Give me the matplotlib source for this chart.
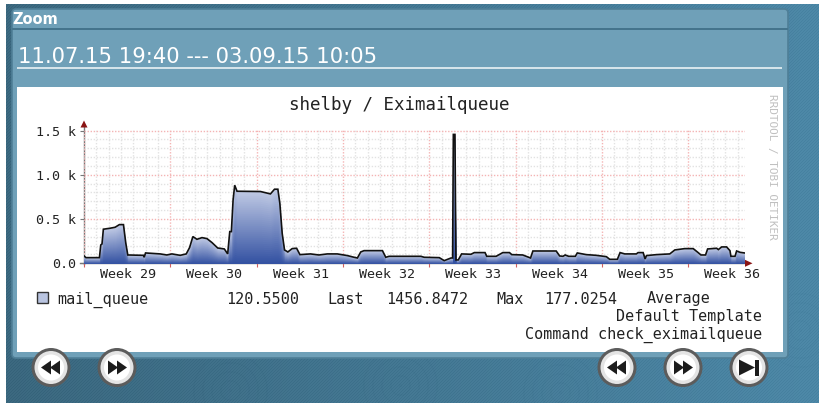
import numpy as np
import matplotlib
matplotlib.use('Agg')
import matplotlib.pyplot as plt
from matplotlib.patches import Rectangle, Circle, Polygon, FancyBboxPatch

# days since 11.07.15 19:40 / mail queue length
days = [0.0, 0.16, 1.25, 1.36, 1.46, 1.57, 2.11, 2.52, 2.87, 3.2, 3.39, 3.55, 4.82, 4.88, 4.99,
        6.18, 6.72, 7.13, 7.8, 8.29, 8.56, 8.83, 9.16, 9.57, 9.97, 10.38, 10.84, 11.38, 11.65,
        11.82, 11.95, 12.09, 12.22, 12.41, 14.31, 15.12, 15.45, 15.72, 15.88, 16.07, 16.26,
        16.53, 16.88, 17.24, 17.51, 18.37, 19.05, 19.73, 20.54, 21.36, 21.9, 22.17, 22.44,
        22.71, 24.2, 24.47, 24.74, 27.32, 27.59, 28.81, 29.21, 29.76, 29.89, 29.95, 30.08,
        30.16, 30.35, 30.62, 31.38, 31.65, 32.52, 32.66, 33.42, 33.96, 34.5, 34.69, 35.58,
        36.21, 36.4, 38.29, 38.57, 38.84, 39.02, 39.3, 39.84, 40.0, 40.73, 41.54, 42.36,
        42.63, 43.25, 43.47, 43.85, 44.79, 44.93, 45.34, 45.5, 45.61, 46.42, 47.5, 47.91,
        48.72, 49.4, 49.8, 50.03, 50.4, 50.57, 51.3, 51.44, 51.71, 52.11, 52.38, 52.46,
        52.79, 52.92, 53.2, 53.55]
queue = [83, 64, 64, 207, 219, 385, 396, 407, 437, 437, 226, 94, 90, 68, 117,
         106, 94, 106, 90, 106, 177, 302, 271, 290, 279, 234, 173, 162, 106,
         358, 358, 716, 882, 814, 811, 784, 837, 837, 679, 339, 151,
         128, 166, 170, 98, 106, 94, 106, 106, 87, 68, 60, 128,
         143, 143, 68, 79, 79, 68, 64, 30, 60, 60, 1456, 1456,
         38, 38, 106, 102, 121, 121, 79, 79, 121, 121, 98, 94,
         60, 139, 139, 83, 79, 94, 79, 79, 117, 98, 90, 75,
         45, 45, 121, 106, 106, 121, 121, 49, 87, 98, 106, 151,
         166, 166, 121, 94, 94, 162, 170, 155, 185, 185, 143, 79,
         79, 139, 124, 117]

weeks = ['Week 29', 'Week 30', 'Week 31', 'Week 32', 'Week 33', 'Week 34', 'Week 35', 'Week 36']
ytick_vals = [0, 500, 1000, 1500]
ytick_labels = ['0.0', '0.5 k', '1.0 k', '1.5 k']

W, H = 819, 403
mono = 'DejaVu Sans Mono'

fig = plt.figure(figsize=(W / 100, H / 100), dpi=100)

# page background, pixel coordinates
bg = fig.add_axes([0, 0, 1, 1])
yy, xx = np.mgrid[0:H, 0:W]
t = (xx / W)[..., None]
img = (1 - t) * np.array([60, 105, 128]) + t * np.array([78, 137, 168])
img = img + (((xx + yy) % 3 == 0)[..., None]) * -7
# faint ripples in the wallpaper
for cx, cy in [(230, 390), (400, 385), (560, 392), (800, 330)]:
    r = np.hypot(xx - cx, yy - cy)
    img = img + ((r % 9 < 1.5) & (r < 45))[..., None] * -2
img[(xx < 6) | (yy < 4)] = 255
bg.imshow(img.astype(np.uint8), extent=(0, W, H, 0), aspect='auto', interpolation='nearest')

# panel
bg.add_patch(FancyBboxPatch((12, 9), 776, 349, boxstyle='round,pad=0,rounding_size=4',
                            fc='#6fa0b8', ec='#4f7f97', lw=1.2))
title_grad = np.linspace(0, 1, 20)[:, None, None] * np.array([-52, -44, -38]) + np.array([150, 190, 206])
bg.imshow(title_grad.astype(np.uint8), extent=(13, 787, 28, 10), aspect='auto')
bg.add_patch(Rectangle((12, 28), 776, 2, fc='#44748c', ec='none'))
bg.add_patch(Rectangle((17, 67), 765, 1.5, fc='#d5e4ea', ec='none'))
bg.add_patch(Rectangle((17, 87), 766, 265, fc='white', ec='none'))
bg.text(12.5, 19.5, 'Zoom', color='white', fontsize=10.5, fontweight='bold', va='center', family='DejaVu Sans')
bg.text(17.5, 57, '11.07.15 19:40 --- 03.09.15 10:05', color='white', fontsize=15.2, va='center', family='DejaVu Sans')

# rrdtool texts
bg.text(399.5, 105, 'shelby / Eximailqueue', fontsize=12.6, family=mono, color='#222222', ha='center', va='center')
bg.text(772, 167, 'RRDTOOL / TOBI OETIKER', fontsize=7.9, family=mono, color='#c0c0c0',
        rotation=270, ha='center', va='center')
bg.add_patch(Rectangle((37, 292), 11, 11, fc='#b9c4e0', ec='#333333', lw=1))
row = [(57, 'mail_queue'), (226, '120.5500'), (327, 'Last'), (386, '1456.8472'),
       (496, 'Max'), (544, '177.0254'), (647, 'Average')]
for x, s in row:
    bg.text(x, 297.5, s, fontsize=10.9, family=mono, color='#222222', va='center_baseline')
bg.text(762, 316, 'Default Template', fontsize=10.9, family=mono, color='#222222', ha='right', va='center')
bg.text(762, 335, 'Command check_eximailqueue', fontsize=10.9, family=mono, color='#222222', ha='right', va='center')

# buttons
for cx, kind in [(51, 'back'), (117, 'fwd'), (617, 'back'), (683, 'fwd'), (749, 'end')]:
    cy = 367.5
    bg.add_patch(Circle((cx, cy), 19.5, fc='#5c5c5c', ec='none', zorder=5))
    bg.add_patch(Circle((cx, cy), 16.5, fc='#e4e4e4', ec='none', zorder=6))
    bg.add_patch(Circle((cx, cy), 13, fc='white', ec='none', zorder=6))
    if kind == 'back':
        tris = [[(cx - 10, cy), (cx, cy - 7), (cx, cy + 7)], [(cx - 1, cy), (cx + 9, cy - 7), (cx + 9, cy + 7)]]
    elif kind == 'fwd':
        tris = [[(cx + 10, cy), (cx, cy - 7), (cx, cy + 7)], [(cx + 1, cy), (cx - 9, cy - 7), (cx - 9, cy + 7)]]
    else:
        tris = [[(cx + 6, cy), (cx - 10, cy - 8), (cx - 10, cy + 8)],
                [(cx + 6, cy - 8), (cx + 10, cy - 8), (cx + 10, cy + 8), (cx + 6, cy + 8)]]
    for tri in tris:
        bg.add_patch(Polygon(tri, fc='#1c1c1c', ec='none', zorder=7))

# axis arrows
bg.plot([84, 84], [125, 264], color='#777777', lw=1, zorder=4)
bg.plot([80, 746], [263.3, 263.3], color='#777777', lw=1, zorder=4)
bg.add_patch(Polygon([(84, 120.5), (80.5, 127.5), (87.5, 127.5)], fc='#8a1414', ec='none', zorder=5))
bg.add_patch(Polygon([(752.5, 263.3), (745, 259.8), (745, 266.8)], fc='#8a1414', ec='none', zorder=5))
bg.set_xlim(0, W)
bg.set_ylim(H, 0)
bg.axis('off')

# graph
ax = fig.add_axes([84 / W, 1 - 263.3 / H, 661 / W, 133.3 / H], zorder=2)
ax.patch.set_alpha(0)
d = np.array(days)
q = np.array(queue)
ax.set_xlim(0, 53.6)
ax.set_ylim(0, 1506)

ax.set_xticks(np.arange(0, 53, 7))
ax.set_xticks(np.arange(0, 54, 1), minor=True)
ax.set_yticks(ytick_vals)
ax.set_yticklabels(ytick_labels, fontsize=9.6, family=mono, color='#222222')
ax.set_yticks(np.arange(0, 1501, 100), minor=True)
ax.tick_params(axis='y', which='major', length=3, width=0.8, color='#777777', pad=3)
ax.tick_params(axis='x', which='major', length=3, width=0.8, color='#d06060', labelbottom=False)
ax.tick_params(which='minor', length=0)
ax.grid(True, which='minor', color='#e2e2e2', lw=1, ls=(0, (1, 1.2)))
ax.grid(True, which='major', color='#f4b4b4', lw=1, ls=(0, (1, 1.2)))
ax.set_axisbelow(True)
for s in ax.spines.values():
    s.set_visible(False)

# colour runs from dark at the base to light at the line, per column
dark = np.array([0.19, 0.31, 0.63])
light = np.array([0.74, 0.78, 0.89])
n = 36
for i in range(n):
    k = 1 - i / n
    ax.fill_between(d, 0, q * k, color=tuple(dark + (light - dark) * k), lw=0, zorder=2)
ax.plot(d, q, color='#111111', lw=1.2, zorder=3, solid_joinstyle='miter')

for i, w in enumerate(weeks):
    ax.annotate(w, (3.5 + 7 * i, 0), xytext=(1, -11.5), textcoords='offset pixels', fontsize=9.6,
                family=mono, color='#222222', ha='center', va='center', annotation_clip=False)

fig.savefig('out.png', dpi=100)
